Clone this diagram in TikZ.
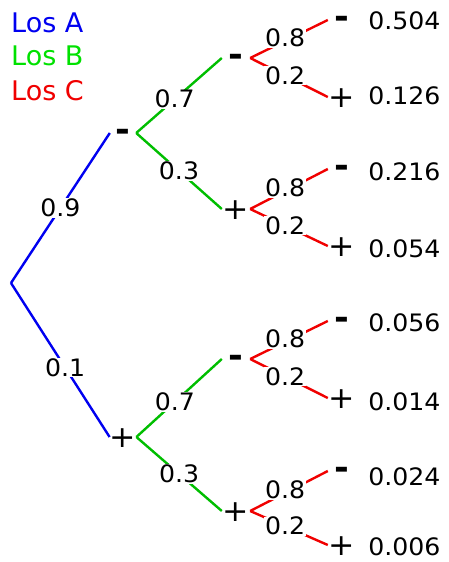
\documentclass[tikz,border=0pt]{standalone}
\usepackage{fontspec}
\usepackage{tikz}
\usetikzlibrary{positioning}
\setmainfont{DejaVu Sans}[FakeStretch=1.05]
\newfontfamily\legendfont{DejaVu Sans}
\definecolor{losA}{RGB}{0,0,240}
\definecolor{losB}{RGB}{0,225,0}
\definecolor{losBline}{RGB}{0,190,0}
\definecolor{losC}{RGB}{240,0,0}
\newcommand{\minus}{{\fontsize{34}{34}\selectfont\textbf{-}}}
\newcommand{\plus}{{\fontsize{30}{30}\selectfont\raisebox{-2pt}{+}}}

\begin{document}
\begin{tikzpicture}[x=1pt,y=-1pt]
\tikzstyle{outcome} = [inner sep=0pt, text height=0.72em, text depth=0pt, minimum width=26pt]
\tikzstyle{prob} = [fill=white, inner sep=1pt, text height=0.72em, text depth=0pt]
\tikzstyle{result} = [inner sep=1pt, text height=0.72em, text depth=0pt]
\tikzstyle{legend} = [anchor=west, inner sep=0pt, font=\legendfont\fontsize{27}{31}\selectfont]
\tikzstyle{edgeA} = [draw=losA, line width=2.4pt]
\tikzstyle{edgeB} = [draw=losBline, line width=2.4pt]
\tikzstyle{edgeC} = [draw=losC, line width=2.4pt]

\useasboundingbox (0,0) rectangle (448,562);
\fontsize{24}{28}\selectfont

% legend
\node[legend, losA] (legA) at (11,23) {Los A};
\node[legend, losB] (legB) at (11,56) {Los B};
\node[legend, losC] (legC) at (11,91) {Los C};

% tree
\coordinate (root) at (11,283);

\node[outcome] (a1) at (123,133) {\minus};
\node[outcome] (a2) at (123,437) {\plus};

\node[outcome, minimum width=28pt] (b1) at (236,58) {\minus};
\node[outcome, minimum width=28pt] (b2) at (236,209) {\plus};
\node[outcome, minimum width=28pt] (b3) at (236,359) {\minus};
\node[outcome, minimum width=28pt] (b4) at (236,511) {\plus};

\node[outcome, minimum width=28pt] (c1) at (342,20) {\minus};
\node[outcome, minimum width=28pt] (c2) at (342,97) {\plus};
\node[outcome, minimum width=28pt] (c3) at (342,169) {\minus};
\node[outcome, minimum width=28pt] (c4) at (342,246) {\plus};
\node[outcome, minimum width=28pt] (c5) at (342,321) {\minus};
\node[outcome, minimum width=28pt] (c6) at (342,398) {\plus};
\node[outcome, minimum width=28pt] (c7) at (342,471) {\minus};
\node[outcome, minimum width=28pt] (c8) at (342,545) {\plus};

\node[result, right=11pt of c1, yshift=-1pt] (r1) {0.504};
\node[result, right=11pt of c2, yshift=1pt] (r2) {0.126};
\node[result, right=11pt of c3, yshift=-3pt] (r3) {0.216};
\node[result, right=11pt of c4, yshift=-3pt] (r4) {0.054};
\node[result, right=11pt of c5, yshift=-2pt] (r5) {0.056};
\node[result, right=11pt of c6, yshift=-4pt] (r6) {0.014};
\node[result, right=11pt of c7, yshift=-6pt] (r7) {0.024};
\node[result, right=11pt of c8, yshift=-2pt] (r8) {0.006};

\path (root) edge[edgeA] node[prob] {0.9} (a1.west);
\path (root) edge[edgeA] node[prob, pos=0.55] {0.1} (a2.west);

\path (a1.east) edge[edgeB] node[prob, pos=0.45] {0.7} (b1.west);
\path (a1.east) edge[edgeB] node[prob] {0.3} (b2.west);
\path (a2.east) edge[edgeB] node[prob, pos=0.45] {0.7} (b3.west);
\path (a2.east) edge[edgeB] node[prob] {0.3} (b4.west);

\path (b1.east) edge[edgeC] node[prob, pos=0.45, yshift=3pt] {0.8} (c1.west);
\path (b1.east) edge[edgeC] node[prob, pos=0.45] {0.2} (c2.west);
\path (b2.east) edge[edgeC] node[prob, pos=0.45, yshift=3pt] {0.8} (c3.west);
\path (b2.east) edge[edgeC] node[prob, pos=0.45] {0.2} (c4.west);
\path (b3.east) edge[edgeC] node[prob, pos=0.45, yshift=3pt] {0.8} (c5.west);
\path (b3.east) edge[edgeC] node[prob, pos=0.45] {0.2} (c6.west);
\path (b4.east) edge[edgeC] node[prob, pos=0.45, yshift=3pt] {0.8} (c7.west);
\path (b4.east) edge[edgeC] node[prob, pos=0.45] {0.2} (c8.west);
\end{tikzpicture}
\end{document}
